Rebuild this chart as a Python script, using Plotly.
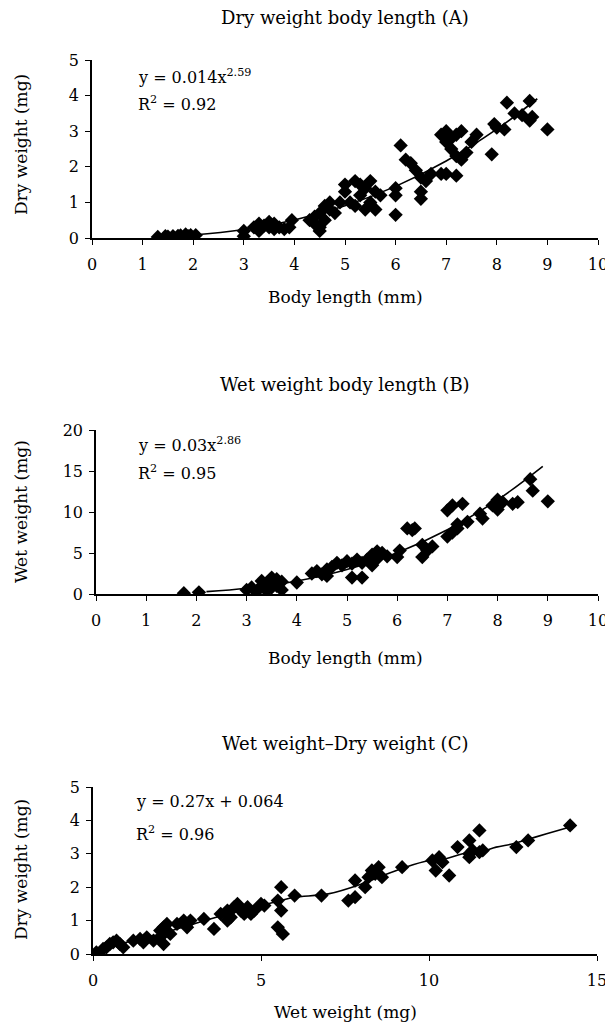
import plotly.graph_objects as go

# ---------------- Data ----------------
# Panel A: body length (mm) vs dry weight (mg)
a_len = [1.3, 1.45, 1.5, 1.6, 1.7, 1.75, 1.85, 1.9, 1.95, 2.05,
         3.0, 3.0, 3.2, 3.3, 3.3, 3.4, 3.5, 3.5, 3.6, 3.6, 3.7, 3.8, 3.9, 3.95,
         4.3, 4.4, 4.4, 4.5, 4.5, 4.5, 4.6, 4.6, 4.7, 4.7, 4.8,
         4.9, 5.0, 5.0, 5.1, 5.2, 5.2, 5.3, 5.3, 5.4, 5.4, 5.5, 5.5, 5.6, 5.6, 5.7,
         6.0, 6.0, 6.0, 6.1, 6.2, 6.3,
         6.4, 6.5, 6.5, 6.5, 6.6, 6.7,
         6.9, 7.0, 7.1, 7.2, 7.3, 7.0,
         6.9, 7.0, 7.2,
         7.1, 7.2, 7.3, 7.4,
         7.6, 7.5, 7.9, 7.95, 8.0, 8.2, 8.15, 8.35, 8.5, 8.65, 8.65, 8.7, 9.0]
a_dry = [0.03, 0.05, 0.04, 0.05, 0.06, 0.07, 0.1, 0.05, 0.08, 0.08,
         0.2, 0.05, 0.3, 0.4, 0.2, 0.35, 0.3, 0.45, 0.4, 0.25, 0.3, 0.25, 0.3, 0.5,
         0.5, 0.6, 0.4, 0.7, 0.3, 0.2, 0.9, 0.5, 0.8, 1.0, 0.7,
         1.0, 1.3, 1.5, 1.0, 0.9, 1.6, 1.2, 1.5, 1.4, 0.8, 1.6, 1.0, 1.3, 0.8, 1.2,
         1.4, 1.2, 0.65, 2.6, 2.2, 2.1,
         1.9, 1.7, 1.3, 1.1, 1.6, 1.8,
         2.9, 3.0, 2.8, 2.9, 3.0, 2.7,
         1.8, 1.8, 1.75,
         2.5, 2.3, 2.2, 2.4,
         2.9, 2.7, 2.35, 3.2, 3.1, 3.8, 3.05, 3.5, 3.45, 3.85, 3.3, 3.4, 3.05]
a_fit_x = [1.2, 2.0, 3.0, 4.0, 5.0, 6.0, 7.0, 8.0, 8.8]
a_coef, a_exp = 0.014, 2.59

# Panel B: body length (mm) vs wet weight (mg)
b_len = [1.75, 2.05,
         3.0, 3.1, 3.2, 3.3, 3.4, 3.5, 3.5, 3.6, 3.6, 3.7, 3.7, 3.4, 3.5, 3.3,
         4.0,
         4.3, 4.4, 4.5, 4.6, 4.7, 4.6, 4.8,
         4.9, 5.0, 5.1, 5.2, 5.3, 5.1, 5.3,
         5.4, 5.5, 5.6, 5.7, 5.6, 5.8, 5.5,
         6.0, 6.05, 6.2, 6.3, 6.35,
         6.5, 6.5, 6.6, 6.7,
         7.0, 7.1, 7.2, 7.0, 7.1, 7.3, 7.2, 7.4,
         7.65, 7.7, 7.9, 8.0, 8.1, 8.3, 8.4, 8.0,
         8.65, 8.7, 9.0]
b_wet = [0.1, 0.2,
         0.5, 0.8, 0.3, 1.0, 1.2, 1.5, 0.8, 1.8, 1.0, 1.5, 0.5, 0.4, 2.0, 1.6,
         1.4,
         2.5, 2.8, 2.4, 3.0, 3.3, 2.2, 3.8,
         3.5, 4.0, 3.7, 4.2, 3.8, 2.0, 2.0,
         4.2, 4.8, 5.2, 5.0, 4.3, 4.6, 3.5,
         4.5, 5.3, 8.0, 7.8, 8.0,
         6.0, 4.5, 5.3, 5.8,
         7.0, 7.5, 8.0, 10.2, 10.8, 11.0, 8.5, 8.8,
         9.8, 9.2, 10.8, 11.5, 11.2, 11.0, 11.2, 10.3,
         14.0, 12.6, 11.3]
b_fit_x = [2.2, 3.0, 4.0, 5.0, 6.0, 7.0, 8.0, 8.9]
b_coef, b_exp = 0.03, 2.86

# Panel C: wet weight (mg) vs dry weight (mg)
c_wet = [0.1,
         0.3, 0.4, 0.5, 0.6, 0.7, 0.8, 0.9,
         1.2, 1.4, 1.5, 1.6, 1.8, 2.0,
         2.0, 2.1, 2.1, 2.2, 2.3,
         2.5, 2.7, 2.8, 2.9,
         3.3, 3.6,
         3.8, 4.0, 4.0, 4.1, 4.2, 4.3, 4.4, 4.5, 4.6, 4.7, 4.8,
         5.0, 5.1,
         5.5, 5.6, 5.6, 5.5, 5.65,
         6.0, 6.8, 7.6, 7.8, 7.8, 8.1,
         8.2, 8.3, 8.4, 8.5, 8.6,
         9.2, 10.1, 10.2, 10.3, 10.4, 10.6, 10.85,
         11.2, 11.2, 11.2, 11.3, 11.5, 11.5, 11.6,
         12.6, 12.95, 14.2]
c_dry = [0.05,
         0.15, 0.2, 0.3, 0.35, 0.4, 0.3, 0.2,
         0.4, 0.45, 0.35, 0.5, 0.4, 0.5,
         0.7, 0.8, 0.3, 0.9, 0.6,
         0.9, 1.0, 0.8, 1.0,
         1.05, 0.75,
         1.2, 1.3, 1.0, 1.1, 1.4, 1.5, 1.3, 1.2, 1.4, 1.2, 1.3,
         1.5, 1.45,
         1.6, 2.0, 1.3, 0.8, 0.6,
         1.75, 1.75, 1.6, 1.7, 2.2, 2.0,
         2.3, 2.5, 2.4, 2.6, 2.3,
         2.6, 2.8, 2.5, 2.9, 2.75, 2.35, 3.2,
         3.4, 2.9, 3.0, 3.1, 3.7, 3.05, 3.1,
         3.2, 3.4, 3.85]
# smoothed trend drawn in panel C
c_trend_x = [0.1, 1.0, 2.0, 3.0, 4.0, 5.0, 5.6, 6.0, 7.0, 8.0, 8.5, 9.3, 10.0,
             10.5, 11.0, 11.5, 12.0, 12.5, 13.0, 13.5, 14.2]
c_trend_y = [0.1, 0.35, 0.6, 0.9, 1.2, 1.45, 1.6, 1.7, 1.8, 2.1, 2.3, 2.6, 2.8,
             2.85, 3.0, 3.05, 3.2, 3.3, 3.45, 3.6, 3.8]

titles = ["Dry weight body length (A)", "Wet weight body length (B)", "Wet weight\u2013Dry weight (C)"]
xtitles = ["Body length (mm)", "Body length (mm)", "Wet weight (mg)"]
ytitles = ["Dry weight (mg)", "Wet weight (mg)", "Dry weight (mg)"]
equations = ["y = 0.014x<sup>2.59</sup>", "y = 0.03x<sup>2.86</sup>", "y = 0.27x + 0.064"]
r2_labels = ["R<sup>2</sup> = 0.92", "R<sup>2</sup> = 0.95", "R<sup>2</sup> = 0.96"]

# ---------------- Figure ----------------
# page body has an 8px margin; the figure runs from there to the window's edge
OFF = 8
W, H = 613 - OFF, 1029 - OFF
FONT = "DejaVu Serif"


def px(x):
    return (x - OFF) / W


def py(y):
    return 1 - (y - OFF) / H


fig = go.Figure()
marker = dict(symbol="diamond", size=11, color="black", line=dict(width=0))
line = dict(color="black", width=1.6)

a_fit_y = [a_coef * x ** a_exp for x in a_fit_x]
b_fit_y = [b_coef * x ** b_exp for x in b_fit_x]

fig.add_trace(go.Scatter(x=a_len, y=a_dry, mode="markers", marker=marker, xaxis="x", yaxis="y"))
fig.add_trace(go.Scatter(x=a_fit_x, y=a_fit_y, mode="lines", line=dict(line, shape="spline"), xaxis="x", yaxis="y"))
fig.add_trace(go.Scatter(x=b_len, y=b_wet, mode="markers", marker=marker, xaxis="x2", yaxis="y2"))
fig.add_trace(go.Scatter(x=b_fit_x, y=b_fit_y, mode="lines", line=dict(line, shape="spline"), xaxis="x2", yaxis="y2"))
fig.add_trace(go.Scatter(x=c_wet, y=c_dry, mode="markers", marker=marker, xaxis="x3", yaxis="y3"))
fig.add_trace(go.Scatter(x=c_trend_x, y=c_trend_y, mode="lines", line=dict(line, shape="spline"), xaxis="x3", yaxis="y3"))

axis_common = dict(showgrid=False, zeroline=False, showline=True, linecolor="black", linewidth=1.5,
                   ticks="outside", ticklen=5, tickwidth=1.3, tickcolor="black", automargin=False,
                   ticklabeloverflow="allow",
                   tickfont=dict(family=FONT, size=16, color="black"))

# pixel boxes in the window: (x0, x1, ytop, ybottom)
boxes = [(92, 598, 60, 238), (96, 598, 430, 594), (93, 597, 787, 954)]
xranges = [[0, 10], [0, 10], [0, 15]]
yranges = [[0, 5], [0, 20], [0, 5]]
xdt = [1, 1, 5]
ydt = [1, 5, 1]

layout = dict(width=W, height=H, autosize=False,
              margin=dict(l=0, r=0, t=0, b=0, pad=0, autoexpand=False),
              plot_bgcolor="white", paper_bgcolor="white", showlegend=False,
              font=dict(family=FONT, color="black"))
for i, (x0, x1, yt, yb) in enumerate(boxes):
    sx = "" if i == 0 else str(i + 1)
    layout["xaxis" + sx] = dict(axis_common, domain=[px(x0), px(x1)], range=xranges[i],
                                dtick=xdt[i], tick0=0, anchor="y" + sx, ticklabelstandoff=6)
    layout["yaxis" + sx] = dict(axis_common, domain=[py(yb), py(yt)], range=yranges[i],
                                dtick=ydt[i], tick0=0, anchor="x" + sx, ticklabelstandoff=3)
fig.update_layout(**layout)

title_y = [18, 384, 743]
xtitle_y = [297, 658, 1012]
ytitle_y = [145, 512, 870]
eq_y = [76, 444, 801]
r2_y = [103, 472, 833]
eq_x = [136, 136, 134]

anns = []
for i in range(3):
    anns.append(dict(text=titles[i], x=px(345), y=py(title_y[i]), xref="paper", yref="paper",
                     showarrow=False, font=dict(family=FONT, size=18), xanchor="center", yanchor="middle"))
    anns.append(dict(text=xtitles[i], x=px(345), y=py(xtitle_y[i]), xref="paper", yref="paper",
                     showarrow=False, font=dict(family=FONT, size=17), xanchor="center", yanchor="middle"))
    anns.append(dict(text=ytitles[i], x=px(21), y=py(ytitle_y[i]), xref="paper", yref="paper",
                     showarrow=False, textangle=-90, font=dict(family=FONT, size=17),
                     xanchor="center", yanchor="middle"))
    anns.append(dict(text=equations[i], x=px(eq_x[i]), y=py(eq_y[i]), xref="paper", yref="paper",
                     showarrow=False, font=dict(family=FONT, size=16), xanchor="left", yanchor="middle"))
    anns.append(dict(text=r2_labels[i], x=px(eq_x[i]), y=py(r2_y[i]), xref="paper", yref="paper",
                     showarrow=False, font=dict(family=FONT, size=16), xanchor="left", yanchor="middle"))
fig.update_layout(annotations=anns)

fig.write_html("out.html")
